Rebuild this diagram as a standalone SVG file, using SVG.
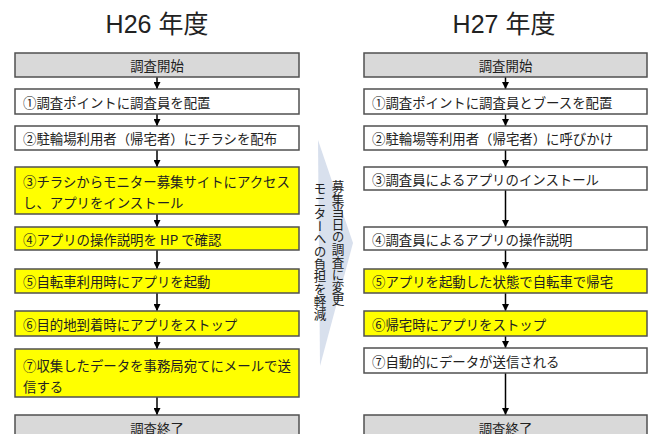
<svg xmlns="http://www.w3.org/2000/svg" width="651" height="434" viewBox="0 0 651 434">
<style>
.t{font-family:"Noto Sans CJK JP","Noto Sans",sans-serif;font-size:13.4px;fill:#222;dominant-baseline:central}
.c{text-anchor:middle}
.title{font-family:"Liberation Sans","Noto Sans CJK JP",sans-serif;font-size:25px;fill:#222;text-anchor:middle}
.b{stroke:#505050;stroke-width:1.5}
.w{fill:#fff}
.y{fill:#ffff00}
.g{fill:#d9d9d9}
.con line{stroke:#000;stroke-width:1.5}
.v{font-family:"Noto Sans CJK JP",sans-serif;font-size:12.6px;fill:#222;writing-mode:vertical-rl}
</style>
<defs>
<marker id="ah" markerWidth="8" markerHeight="7" refX="7" refY="3.5" orient="auto" markerUnits="userSpaceOnUse">
<path d="M0,0 L7,3.5 L0,7 Z" fill="#000"/>
</marker>
</defs>
<rect width="651" height="434" fill="#fff"/>
<g id="arrowband">
<polygon points="318,140 353,243 320,366" fill="#d8e0ed"/>
<text class="v" x="338" y="180">募集当日の調査に変更</text>
<text class="v" x="320" y="182">モニターへの負担を軽減</text>
</g>
<text class="title" x="157" y="33">H26 年度</text>
<text class="title" x="504" y="33">H27 年度</text>
<g class="con">
<line x1="157" y1="77" x2="157" y2="89" marker-end="url(#ah)"/>
<line x1="157" y1="114" x2="157" y2="126" marker-end="url(#ah)"/>
<line x1="157" y1="150" x2="157" y2="167" marker-end="url(#ah)"/>
<line x1="157" y1="214" x2="157" y2="227" marker-end="url(#ah)"/>
<line x1="157" y1="250" x2="157" y2="269" marker-end="url(#ah)"/>
<line x1="157" y1="293" x2="157" y2="311" marker-end="url(#ah)"/>
<line x1="157" y1="336" x2="157" y2="349" marker-end="url(#ah)"/>
<line x1="157" y1="397" x2="157" y2="415" marker-end="url(#ah)"/>
<line x1="505.5" y1="77" x2="505.5" y2="89" marker-end="url(#ah)"/>
<line x1="505.5" y1="114" x2="505.5" y2="126" marker-end="url(#ah)"/>
<line x1="505.5" y1="150" x2="505.5" y2="167" marker-end="url(#ah)"/>
<line x1="505.5" y1="190" x2="505.5" y2="227" marker-end="url(#ah)"/>
<line x1="505.5" y1="250" x2="505.5" y2="269" marker-end="url(#ah)"/>
<line x1="505.5" y1="293" x2="505.5" y2="311" marker-end="url(#ah)"/>
<line x1="505.5" y1="336" x2="505.5" y2="348" marker-end="url(#ah)"/>
<line x1="505.5" y1="373" x2="505.5" y2="415" marker-end="url(#ah)"/>
</g>
<g id="L0"><rect class="b g" x="15" y="53" width="284" height="24"/><text class="t c" x="157" y="65">調査開始</text></g>
<g id="L1"><rect class="b w" x="15" y="89" width="284" height="25"/><text class="t" x="23" y="101.5">①調査ポイントに調査員を配置</text></g>
<g id="L2"><rect class="b w" x="15" y="126" width="284" height="24"/><text class="t" x="23" y="138">②駐輪場利用者（帰宅者）にチラシを配布</text></g>
<g id="L3"><rect class="b y" x="15" y="167" width="284" height="47"/><text class="t" x="23" y="181">③チラシからモニター募集サイトにアクセス</text><text class="t" x="23" y="202">し、アプリをインストール</text></g>
<g id="L4"><rect class="b y" x="15" y="227" width="284" height="23"/><text class="t" x="23" y="238.5">④アプリの操作説明を HP で確認</text></g>
<g id="L5"><rect class="b y" x="15" y="269" width="284" height="24"/><text class="t" x="23" y="281">⑤自転車利用時にアプリを起動</text></g>
<g id="L6"><rect class="b y" x="15" y="311" width="284" height="25"/><text class="t" x="23" y="323.5">⑥目的地到着時にアプリをストップ</text></g>
<g id="L7"><rect class="b y" x="15" y="349" width="284" height="48"/><text class="t" x="23" y="365">⑦収集したデータを事務局宛てにメールで送</text><text class="t" x="23" y="386">信する</text></g>
<g id="L8"><rect class="b g" x="15" y="415" width="284" height="26"/><text class="t c" x="157" y="428">調査終了</text></g>
<g id="R0"><rect class="b g" x="364" y="53" width="283" height="24"/><text class="t c" x="505.5" y="65">調査開始</text></g>
<g id="R1"><rect class="b w" x="364" y="89" width="283" height="25"/><text class="t" x="372" y="101.5">①調査ポイントに調査員とブースを配置</text></g>
<g id="R2"><rect class="b w" x="364" y="126" width="283" height="24"/><text class="t" x="372" y="138">②駐輪場等利用者（帰宅者）に呼びかけ</text></g>
<g id="R3"><rect class="b w" x="364" y="167" width="283" height="23"/><text class="t" x="372" y="178.5">③調査員によるアプリのインストール</text></g>
<g id="R4"><rect class="b w" x="364" y="227" width="283" height="23"/><text class="t" x="372" y="238.5">④調査員によるアプリの操作説明</text></g>
<g id="R5"><rect class="b y" x="364" y="269" width="283" height="24"/><text class="t" x="372" y="281">⑤アプリを起動した状態で自転車で帰宅</text></g>
<g id="R6"><rect class="b y" x="364" y="311" width="283" height="25"/><text class="t" x="372" y="323.5">⑥帰宅時にアプリをストップ</text></g>
<g id="R7"><rect class="b w" x="364" y="348" width="283" height="25"/><text class="t" x="372" y="360.5">⑦自動的にデータが送信される</text></g>
<g id="R8"><rect class="b g" x="364" y="415" width="283" height="26"/><text class="t c" x="505.5" y="428">調査終了</text></g>
</svg>
